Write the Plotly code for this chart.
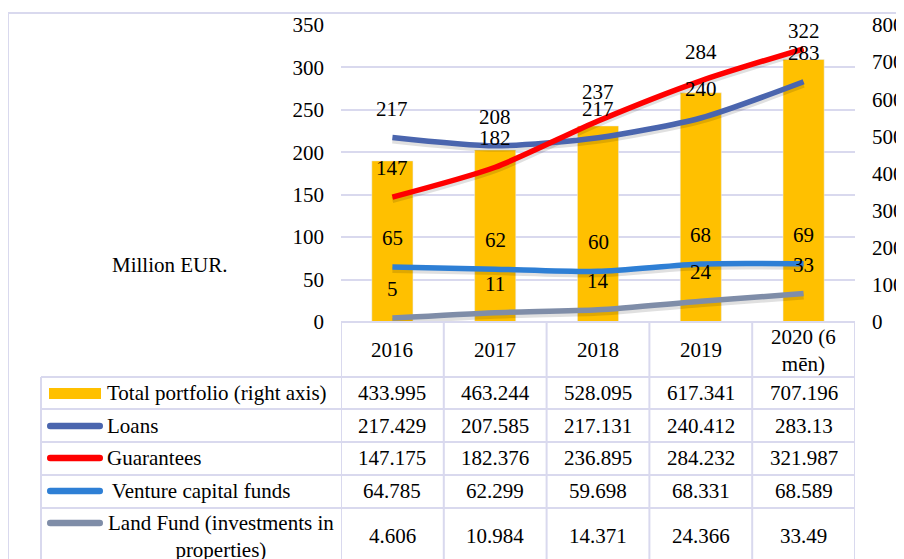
import plotly.graph_objects as go

years = ["2016", "2017", "2018", "2019", "2020 (6 mēn)"]
year_labels = ["2016", "2017", "2018", "2019", "2020 (6<br>mēn)"]
total_portfolio = [433.995, 463.244, 528.095, 617.341, 707.196]
loans = [217.429, 207.585, 217.131, 240.412, 283.13]
guarantees = [147.175, 182.376, 236.895, 284.232, 321.987]
venture = [64.785, 62.299, 59.698, 68.331, 68.589]
land_fund = [4.606, 10.984, 14.371, 24.366, 33.49]

series_names = [
    "Total portfolio (right axis)",
    "Loans",
    "Guarantees",
    " Venture capital funds",
    "Land Fund (investments in<br>properties)",
]
line_series = [loans, guarantees, venture, land_fund]
line_colors = ["#4A65AE", "#FF0000", "#2E7FD5", "#7F8DA8"]
BAR_COLOR = "#FFC000"
GRID = "#D9D9EE"
FONT = "Liberation Serif"
FS = 21

# page offset of the plotly div (body margin)
OFF = 8
# plot area in page pixels
PL, PT, PW, PH = 341, 25, 514, 297


def fx(p):
    return (p - PL) / PW


def fy(p):
    return (PT + PH - p) / PH


def ypix(v):
    return PT + PH * (1 - v / 350)


idx = list(range(len(years)))

fig = go.Figure()

fig.add_trace(go.Bar(
    x=idx, y=total_portfolio, marker_color=BAR_COLOR, width=0.4,
    yaxis="y", showlegend=False, hoverinfo="skip",
))

# soft shadows under lines (shifted down via axis range)
for vals in line_series:
    fig.add_trace(go.Scatter(
        x=idx, y=vals, mode="lines", yaxis="y2",
        line=dict(color="rgba(0,0,0,0.12)", width=6, shape="spline", smoothing=0.7),
        showlegend=False, hoverinfo="skip",
    ))

for vals, col, name in zip(line_series, line_colors, series_names[1:]):
    fig.add_trace(go.Scatter(
        x=idx, y=vals, mode="lines", yaxis="y3", name=name,
        line=dict(color=col, width=5.5, shape="spline", smoothing=0.7),
        showlegend=False,
    ))

annotations = []
# data labels above line points
for vals in line_series:
    for i, v in zip(idx, vals):
        py = ypix(v)
        target = max(py - 29, 31)
        annotations.append(dict(
            x=i, y=v, xref="x", yref="y3", text=str(round(v)),
            showarrow=False, yshift=py - target, font=dict(size=FS),
        ))

# header row (years)
for i, lab in zip(idx, year_labels):
    annotations.append(dict(
        x=i, y=fy(350), xref="x", yref="paper", text=lab, showarrow=False,
        yanchor="middle", font=dict(size=FS),
    ))

row_centers = [393, 426, 458, 491, 536]
table_rows = [total_portfolio, loans, guarantees, venture, land_fund]
for rc, vals in zip(row_centers, table_rows):
    for i, v in zip(idx, vals):
        annotations.append(dict(
            x=i, y=fy(rc), xref="x", yref="paper", text=f"{v:g}",
            showarrow=False, yanchor="middle", font=dict(size=FS),
        ))

for k, (rc, name) in enumerate(zip(row_centers, series_names)):
    if k == 4:
        annotations.append(dict(
            x=fx(221), y=fy(rc), xref="paper", yref="paper", text=name,
            showarrow=False, xanchor="center", yanchor="middle", align="center",
            font=dict(size=FS),
        ))
    else:
        annotations.append(dict(
            x=fx(105), y=fy(rc), xref="paper", yref="paper", text=name,
            showarrow=False, xanchor="left", yanchor="middle", font=dict(size=FS),
        ))

annotations.append(dict(
    x=fx(170), y=fy(265), xref="paper", yref="paper", text="Million EUR.",
    showarrow=False, xanchor="center", yanchor="middle", font=dict(size=FS),
))

shapes = []
# chart border
shapes.append(dict(type="rect", xref="paper", yref="paper",
                   x0=fx(8), x1=fx(1000), y0=fy(13), y1=fy(700),
                   line=dict(color=GRID, width=2), layer="below"))
# table horizontal lines
for yl in [377, 409, 442, 475, 508]:
    shapes.append(dict(type="line", xref="paper", yref="paper",
                       x0=fx(41), x1=1, y0=fy(yl), y1=fy(yl),
                       line=dict(color=GRID, width=2)))
shapes.append(dict(type="line", xref="paper", yref="paper",
                   x0=0, x1=1, y0=0, y1=0,
                   line=dict(color=GRID, width=2)))
# table vertical lines
for k in range(len(years) + 1):
    shapes.append(dict(type="line", xref="x", yref="paper",
                       x0=k - 0.5, x1=k - 0.5, y0=0, y1=fy(600),
                       line=dict(color=GRID, width=2)))
shapes.append(dict(type="line", xref="paper", yref="paper",
                   x0=fx(41), x1=fx(41), y0=fy(377), y1=fy(600),
                   line=dict(color=GRID, width=2)))

# legend keys
shapes.append(dict(type="rect", xref="paper", yref="paper",
                   x0=fx(49), x1=fx(101), y0=fy(399), y1=fy(388),
                   fillcolor=BAR_COLOR, line=dict(width=0)))


def pill(x0, x1, yc, h):
    r = h / 2
    a, b = fx(x0 + r), fx(x1 - r)
    lft, rgt = fx(x0), fx(x1)
    t, m, bt = fy(yc - r), fy(yc), fy(yc + r)
    return (f"M{a},{t} L{b},{t} Q{rgt},{t} {rgt},{m} Q{rgt},{bt} {b},{bt} "
            f"L{a},{bt} Q{lft},{bt} {lft},{m} Q{lft},{t} {a},{t} Z")


for rc, col in zip([426, 458, 491, 523], line_colors):
    shapes.append(dict(type="path", xref="paper", yref="paper",
                       path=pill(47, 103, rc, 6.5), fillcolor=col,
                       line=dict(width=0)))

W, H = 904, 559
fig.update_layout(
    width=W, height=H,
    margin=dict(l=PL - OFF, r=W - (PL - OFF) - PW, t=PT - OFF,
                b=H - (PT - OFF) - PH, autoexpand=False),
    paper_bgcolor="white", plot_bgcolor="rgba(0,0,0,0)",
    font=dict(family=FONT, size=FS, color="black"),
    xaxis=dict(range=[-0.5, 4.5], showticklabels=False, showgrid=False,
               zeroline=False, showline=False, automargin=False),
    yaxis=dict(side="right", range=[0, 800], dtick=100, showgrid=False,
               zeroline=False, showline=False, ticklabelstandoff=16,
               automargin=False, tickfont=dict(size=FS)),
    yaxis2=dict(overlaying="y", range=[3.5, 353.5], visible=False),
    yaxis3=dict(overlaying="y", side="left", range=[0, 350], dtick=50,
                showgrid=True, gridcolor=GRID, gridwidth=2, zeroline=False,
                showline=False, ticklabelstandoff=16, automargin=False,
                tickfont=dict(size=FS)),
    annotations=annotations,
    shapes=shapes,
    showlegend=False,
)

fig.write_html("out.html")
